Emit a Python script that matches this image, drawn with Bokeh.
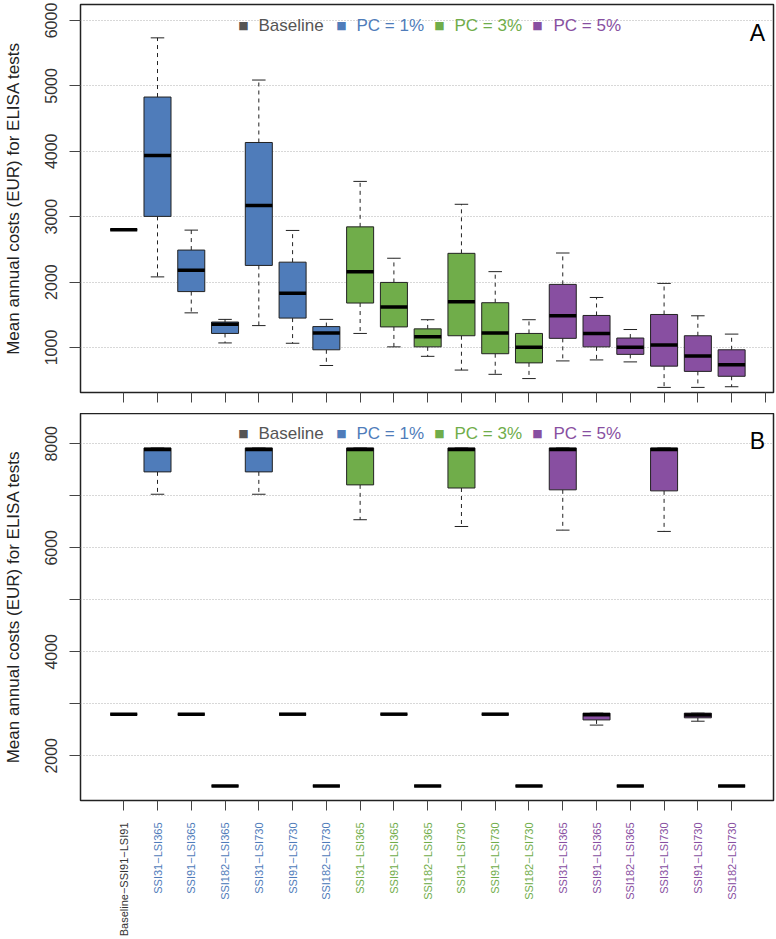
import numpy as np
from bokeh.plotting import figure
from bokeh.models import Range1d, FixedTicker, Label, ColumnDataSource
from bokeh.layouts import column
from bokeh.transform import dodge
from bokeh.embed import file_html
from bokeh.resources import INLINE
from bokeh.core.properties import value

# ---------------- data ----------------
categories = [
    "Baseline−SSI91−LSI91",
    "SSI31−LSI365", "SSI91−LSI365", "SSI182−LSI365", "SSI31−LSI730", "SSI91−LSI730", "SSI182−LSI730",
    "SSI31−LSI365", "SSI91−LSI365", "SSI182−LSI365", "SSI31−LSI730", "SSI91−LSI730", "SSI182−LSI730",
    "SSI31−LSI365", "SSI91−LSI365", "SSI182−LSI365", "SSI31−LSI730", "SSI91−LSI730", "SSI182−LSI730",
]
groups = ["Baseline"] + ["PC = 1%"] * 6 + ["PC = 3%"] * 6 + ["PC = 5%"] * 6
group_names = ["Baseline", "PC = 1%", "PC = 3%", "PC = 5%"]
group_colors = ["#555555", "#4F7CBA", "#70AD4A", "#884FA1"]
positions = list(range(1, 20))

# Panel A: five-number summaries
a_min = [2800, 2080, 1530, 1070, 1335, 1065, 725, 1215, 1010, 865, 655, 590, 525, 795, 810, 780, 390, 390, 400]
a_q1 = [2800, 3005, 1855, 1215, 2255, 1450, 965, 1680, 1315, 1010, 1180, 905, 765, 1140, 1010, 895, 715, 635, 560]
a_med = [2800, 3935, 2180, 1355, 3170, 1830, 1220, 2160, 1620, 1165, 1700, 1220, 1005, 1485, 1215, 1005, 1040, 870, 735]
a_q3 = [2800, 4830, 2490, 1390, 4135, 2305, 1320, 2845, 1995, 1285, 2440, 1685, 1215, 1965, 1490, 1145, 1505, 1180, 965]
a_max = [2800, 5735, 2795, 1430, 5090, 2790, 1430, 3540, 2365, 1425, 3190, 2160, 1425, 2445, 1765, 1275, 1980, 1485, 1205]

# Panel B: five-number summaries
b_min = [2800, 7030, 2800, 1420, 7030, 2800, 1420, 6540, 2800, 1420, 6410, 2800, 1420, 6340, 2590, 1420, 6315, 2665, 1420]
b_q1 = [2800, 7460, 2800, 1420, 7460, 2800, 1420, 7210, 2800, 1420, 7150, 2800, 1420, 7115, 2690, 1420, 7095, 2730, 1420]
b_med = [2800, 7890, 2800, 1420, 7890, 2800, 1420, 7890, 2800, 1420, 7890, 2800, 1420, 7890, 2790, 1420, 7890, 2785, 1420]
b_q3 = [2800, 7920, 2800, 1420, 7920, 2800, 1420, 7920, 2800, 1420, 7920, 2800, 1420, 7920, 2820, 1420, 7920, 2820, 1420]
b_max = [2800, 7920, 2800, 1420, 7920, 2800, 1420, 7920, 2800, 1420, 7920, 2800, 1420, 7920, 2820, 1420, 7920, 2820, 1420]

a_yticks = [1000, 2000, 3000, 4000, 5000, 6000]
b_yticks = [2000, 3000, 4000, 5000, 6000, 7000, 8000]
b_ylabels = [2000, 4000, 6000, 8000]

y_title = "Mean annual costs (EUR) for ELISA tests"

FONT = "Liberation Sans"
color_of = dict(zip(group_names, group_colors))
box_colors = [color_of[g] for g in groups]
label_colors = ["#333333" if g == "Baseline" else color_of[g] for g in groups]

X_RANGE = (-0.28, 20.24)
W = 775
BL = 79
BR = 2


def make_panel(mn, q1, med, q3, mx, ylo, yhi, yticks, ylabels, xticks, letter,
               height, border_top, border_bottom, frame_h, legend_dy, letter_dy):
    p = figure(width=W, height=height, x_range=Range1d(*X_RANGE),
               y_range=Range1d(ylo, yhi), output_backend="svg", toolbar_location=None,
               min_border_left=BL, min_border_right=BR, min_border_top=border_top,
               min_border_bottom=border_bottom)
    p.background_fill_color = "white"
    p.border_fill_color = "white"
    p.outline_line_color = "#222222"
    p.outline_line_width = 1.5

    p.xgrid.visible = False
    p.ygrid.grid_line_color = "#b0b0b0"
    p.ygrid.grid_line_dash = "1 2"
    p.ygrid.grid_line_width = 1

    xa = p.xaxis[0]
    xa.ticker = FixedTicker(ticks=xticks)
    xa.major_label_overrides = {t: "" for t in xticks}
    xa.major_label_text_font_size = "0px"
    xa.major_label_standoff = 0
    xa.major_tick_out = 10
    xa.major_tick_in = 0
    xa.minor_tick_line_color = None
    xa.axis_line_color = None
    xa.major_tick_line_color = "#444444"

    ya = p.yaxis[0]
    ya.ticker = FixedTicker(ticks=yticks)
    ya.major_label_overrides = {t: (str(t) if t in ylabels else "") for t in yticks}
    ya.major_label_orientation = "vertical"
    ya.major_label_text_font = FONT
    ya.major_label_text_font_size = "16px"
    ya.major_label_text_color = "#333333"
    ya.major_label_standoff = 12
    ya.major_tick_out = 11
    ya.major_tick_in = 0
    ya.minor_tick_line_color = None
    ya.axis_line_color = None
    ya.major_tick_line_color = "#444444"
    ya.axis_label = y_title
    ya.axis_label_text_font = FONT
    ya.axis_label_text_font_size = "17px"
    ya.axis_label_text_font_style = "normal"
    ya.axis_label_text_color = "#222222"
    ya.axis_label_standoff = 20

    src = ColumnDataSource(dict(x=positions, mn=mn, q1=q1, med=med, q3=q3, mx=mx,
                                color=box_colors))
    # whiskers
    p.segment(x0="x", y0="q3", x1="x", y1="mx", source=src, line_color="#222222",
              line_width=1, line_dash="4 4")
    p.segment(x0="x", y0="q1", x1="x", y1="mn", source=src, line_color="#222222",
              line_width=1, line_dash="4 4")
    # caps
    p.segment(x0=dodge("x", -0.2), y0="mx", x1=dodge("x", 0.2), y1="mx", source=src,
              line_color="#222222", line_width=1)
    p.segment(x0=dodge("x", -0.2), y0="mn", x1=dodge("x", 0.2), y1="mn", source=src,
              line_color="#222222", line_width=1)
    # boxes
    p.vbar(x="x", width=0.8, bottom="q1", top="q3", source=src, fill_color="color",
           line_color="#222222", line_width=1)
    # medians
    p.segment(x0=dodge("x", -0.4), y0="med", x1=dodge("x", 0.4), y1="med", source=src,
              line_color="black", line_width=3.5, line_cap="butt")

    # legend (coloured squares + coloured texts)
    sq_x = [163, 261, 359, 457]
    tx_x = [178, 276, 374, 473]
    ly = frame_h - legend_dy
    for name, col, sx, tx in zip(group_names, group_colors, sq_x, tx_x):
        p.add_layout(Label(x=sx, y=ly, x_units="screen", y_units="screen", text="■",
                           text_font="DejaVu Sans", text_font_size="11px",
                           text_color=col, text_align="center", text_baseline="middle"))
        p.add_layout(Label(x=tx, y=ly, x_units="screen", y_units="screen", text=name,
                           text_font=FONT, text_font_size="17px",
                           text_color=col, text_align="left", text_baseline="middle"))
    # panel letter
    p.add_layout(Label(x=677, y=frame_h - letter_dy, x_units="screen", y_units="screen",
                       text=letter, text_font=FONT, text_font_size="23px",
                       text_color="black", text_align="center", text_baseline="middle"))
    return p


pA = make_panel(a_min, a_q1, a_med, a_q3, a_max, 312, 6245, a_yticks, a_yticks,
                list(range(1, 21)), "A", height=413, border_top=4, border_bottom=21,
                frame_h=388, legend_dy=21, letter_dy=28)
pB = make_panel(b_min, b_q1, b_med, b_q3, b_max, 1140, 8583, b_yticks, b_ylabels,
                list(range(1, 20)), "B", height=409, border_top=0, border_bottom=22,
                frame_h=387, legend_dy=20, letter_dy=27)

# strip carrying the coloured category labels under panel B
LAB_H = 116
pC = figure(width=W, height=LAB_H, x_range=pB.x_range, y_range=Range1d(0, LAB_H),
            output_backend="svg", toolbar_location=None,
            min_border_left=BL, min_border_right=BR, min_border_top=0, min_border_bottom=0)
pC.axis.visible = False
pC.grid.visible = False
pC.outline_line_color = None
pC.background_fill_color = "white"
pC.border_fill_color = "white"
csrc = ColumnDataSource(dict(x=positions, text=categories, color=label_colors,
                             y=[LAB_H] * len(positions)))
pC.text(x="x", y="y", text="text", source=csrc, angle=np.pi / 2,
        text_align="right", text_baseline="middle", text_font=value(FONT),
        text_font_size=value("11px"), text_color="color")

layout = column(pA, pB, pC, spacing=0)
open("out.html", "w").write(file_html(layout, INLINE))
